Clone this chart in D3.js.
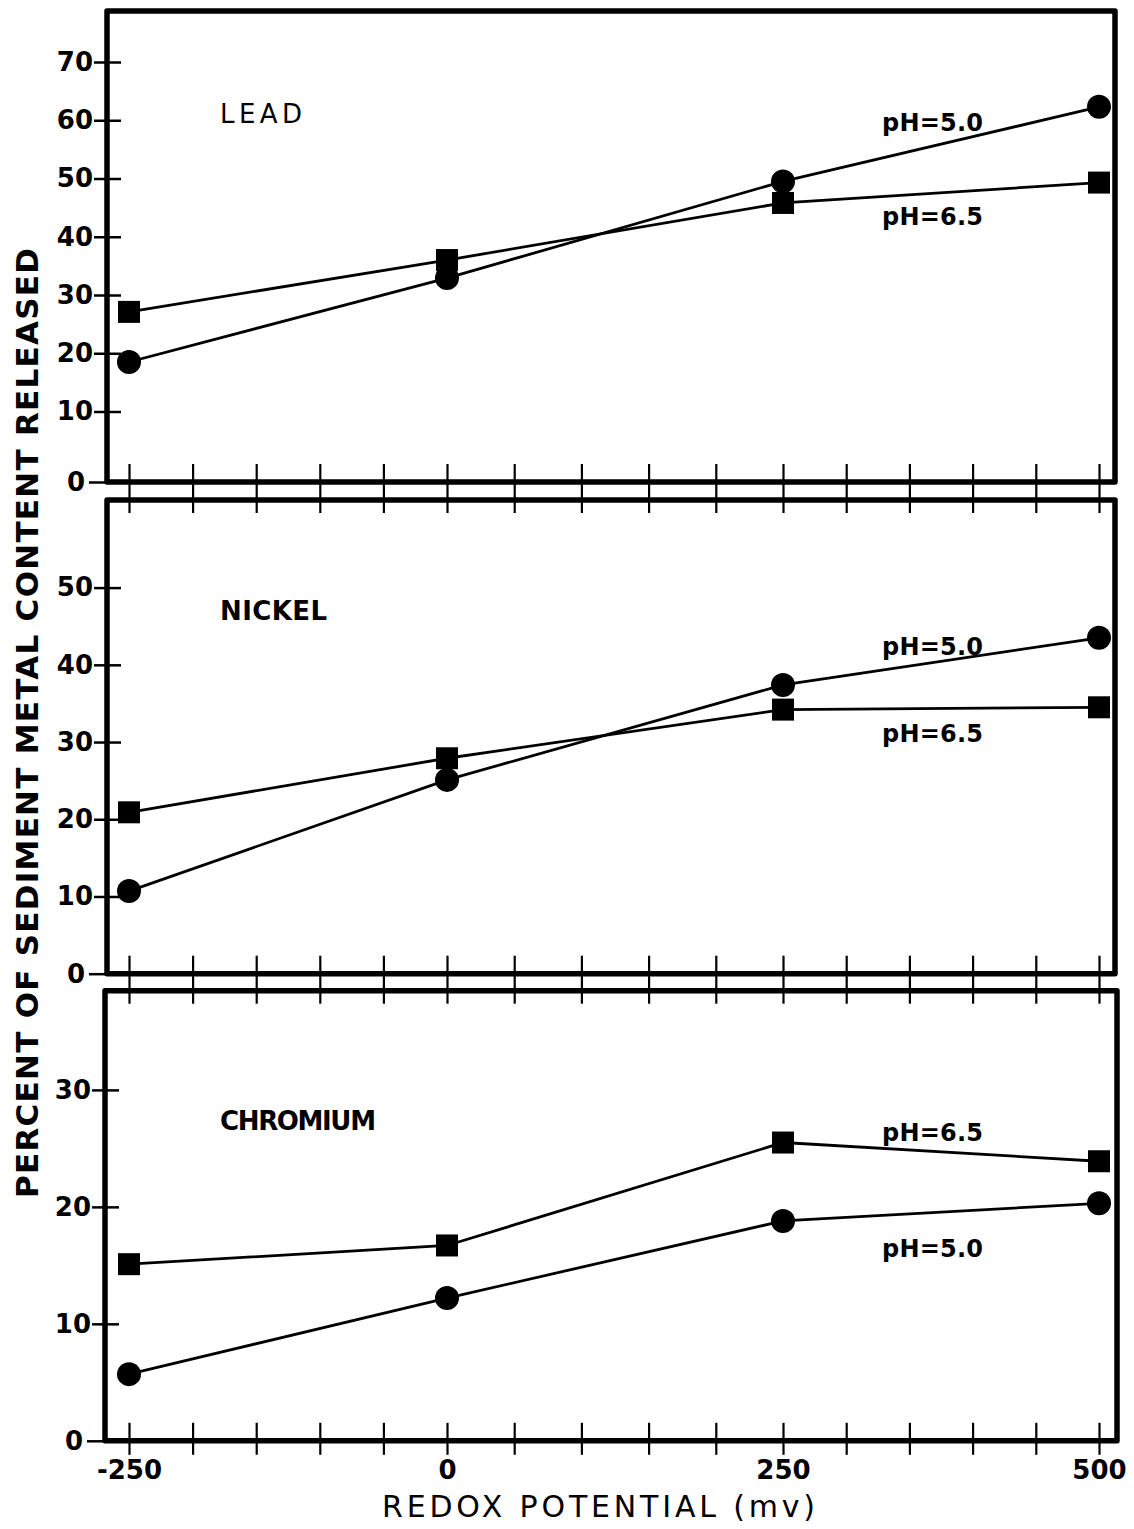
<!DOCTYPE html>
<html>
<head>
<meta charset="utf-8">
<script src="https://cdn.jsdelivr.net/npm/d3@7"></script>
<style>
  html, body { margin: 0; padding: 0; background: #fff; }
  svg { display: block; }
  text { font-family: "DejaVu Sans", "Liberation Sans", sans-serif; fill: #000; }
</style>
</head>
<body>
<svg id="chart" width="1134" height="1529"></svg>
<script>
// ---- data ----
const redox = [-250, 0, 250, 500];                 // redox potential, mV
const leadPH50 = [18.5, 32.9, 49.5, 62.3];
const leadPH65 = [27.1, 36.0, 45.8, 49.3];
const nickelPH50 = [10.7, 25.1, 37.4, 43.5];
const nickelPH65 = [20.9, 27.9, 34.2, 34.5];
const chromiumPH50 = [5.7, 12.2, 18.8, 20.3];
const chromiumPH65 = [15.1, 16.7, 25.5, 23.9];
const leadTicks = [0, 10, 20, 30, 40, 50, 60, 70];
const nickelTicks = [0, 10, 20, 30, 40, 50];
const chromiumTicks = [0, 10, 20, 30];
const xTickLabels = [-250, 0, 250, 500];
const xMinorTicks = d3.range(-250, 501, 50);
const seriesLabels = ["pH=5.0", "pH=6.5"];
const yTitle = "PERCENT OF SEDIMENT METAL CONTENT RELEASED";
const xTitle = "REDOX POTENTIAL (mv)";

// ---- layout ----
const panels = [
  { name: "LEAD", values: [leadPH50, leadPH65], ticks: leadTicks,
    left: 107, right: 1115, top: 11, bottom: 482,
    yDomain: [0, 10, 70], yRange: [482, 411.5, 62],
    titleY: 123, titleLen: 82, titleWeight: "normal",
    labelY: [131, 225] },
  { name: "NICKEL", values: [nickelPH50, nickelPH65], ticks: nickelTicks,
    left: 107, right: 1115, top: 500, bottom: 973.7,
    yDomain: [0, 50], yRange: [973.7, 587.6],
    titleY: 620, titleLen: 107, titleWeight: "bold",
    labelY: [655, 742] },
  { name: "CHROMIUM", values: [chromiumPH50, chromiumPH65], ticks: chromiumTicks,
    left: 105, right: 1117, top: 990.7, bottom: 1440.8,
    yDomain: [0, 30], yRange: [1440.8, 1089.9],
    titleY: 1130, titleLen: 156, titleWeight: "bold",
    labelY: [1257, 1141] }
];

const svg = d3.select("#chart");
const x = d3.scaleLinear().domain([-250, 0, 250, 500]).range([129, 447, 783, 1099]);

panels.forEach((p, i) => {
  const y = d3.scaleLinear().domain(p.yDomain).range(p.yRange);
  const g = svg.append("g").attr("class", "panel");

  // frame
  g.append("rect")
    .attr("x", p.left).attr("y", p.top)
    .attr("width", p.right - p.left).attr("height", p.bottom - p.top)
    .attr("fill", "none").attr("stroke", "#000")
    .attr("stroke-width", 5.5).attr("stroke-linejoin", "round");

  // x ticks crossing the bottom edge (and into the next panel's top edge)
  const next = panels[i + 1];
  const tickTop = p.bottom - 18;
  const tickLen = next ? (next.top + 13) - tickTop : 32;
  const xa = g.append("g")
    .attr("transform", `translate(0,${tickTop})`)
    .call(d3.axisBottom(x).tickValues(xMinorTicks).tickSize(tickLen).tickFormat(""));
  xa.select(".domain").remove();
  xa.selectAll(".tick line").attr("stroke", "#000").attr("stroke-width", 2.2);

  // y axis: ticks cross the left edge
  const inner = 14;
  const ya = g.append("g")
    .attr("transform", `translate(${p.left + inner},0)`)
    .call(d3.axisLeft(y).tickValues(p.ticks).tickSize(27).tickPadding(1)
      .tickFormat(d => String(d)));
  ya.select(".domain").remove();
  ya.selectAll(".tick line").attr("stroke", "#000").attr("stroke-width", 2.5);
  ya.selectAll(".tick text")
    .attr("font-size", 26).attr("font-weight", "bold")
    .style("font-family", '"DejaVu Sans", sans-serif');
  const zero = ya.selectAll(".tick").filter(d => d === 0);
  zero.select("line").attr("x1", -inner).attr("x2", -inner - 18);
  zero.select("text").attr("x", -inner - 22);

  // series lines and markers
  const line = d3.line().x((d, k) => x(redox[k])).y(d => y(d));
  p.values.forEach(vals => {
    g.append("path").datum(vals)
      .attr("d", line).attr("fill", "none")
      .attr("stroke", "#000").attr("stroke-width", 2.8);
  });
  g.selectAll("circle.m").data(p.values[0]).join("circle")
    .attr("class", "m")
    .attr("cx", (d, k) => x(redox[k])).attr("cy", d => y(d))
    .attr("r", 12).attr("fill", "#000");
  g.selectAll("rect.m").data(p.values[1]).join("rect")
    .attr("class", "m")
    .attr("x", (d, k) => x(redox[k]) - 11).attr("y", d => y(d) - 11)
    .attr("width", 22).attr("height", 22).attr("fill", "#000");

  // metal name
  g.append("text")
    .attr("x", 220).attr("y", p.titleY)
    .attr("font-size", 26).attr("font-weight", p.titleWeight)
    .attr("textLength", p.titleLen).attr("lengthAdjust", "spacing")
    .text(p.name);

  // series labels
  seriesLabels.forEach((lab, k) => {
    g.append("text")
      .attr("x", 882).attr("y", p.labelY[k])
      .attr("font-size", 24).attr("font-weight", "bold")
      .attr("textLength", 101).attr("lengthAdjust", "spacing")
      .text(lab);
  });
});

// x-axis value labels under the bottom panel
const last = panels[panels.length - 1];
const xl = svg.append("g")
  .attr("transform", `translate(0,${last.bottom})`)
  .call(d3.axisBottom(x).tickValues(xTickLabels).tickSize(0).tickPadding(20)
    .tickFormat(d => String(d)));
xl.select(".domain").remove();
xl.selectAll(".tick text")
  .attr("font-size", 26).attr("font-weight", "bold")
  .style("font-family", '"DejaVu Sans", sans-serif');

// axis titles
svg.append("text")
  .attr("x", 382).attr("y", 1517)
  .attr("font-size", 30)
  .attr("textLength", 433).attr("lengthAdjust", "spacing")
  .text(xTitle);

svg.append("text")
  .attr("transform", "translate(38,723) rotate(-90)")
  .attr("text-anchor", "middle")
  .attr("font-size", 31).attr("font-weight", "bold")
  .attr("textLength", 950).attr("lengthAdjust", "spacing")
  .text(yTitle);
</script>
</body>
</html>
